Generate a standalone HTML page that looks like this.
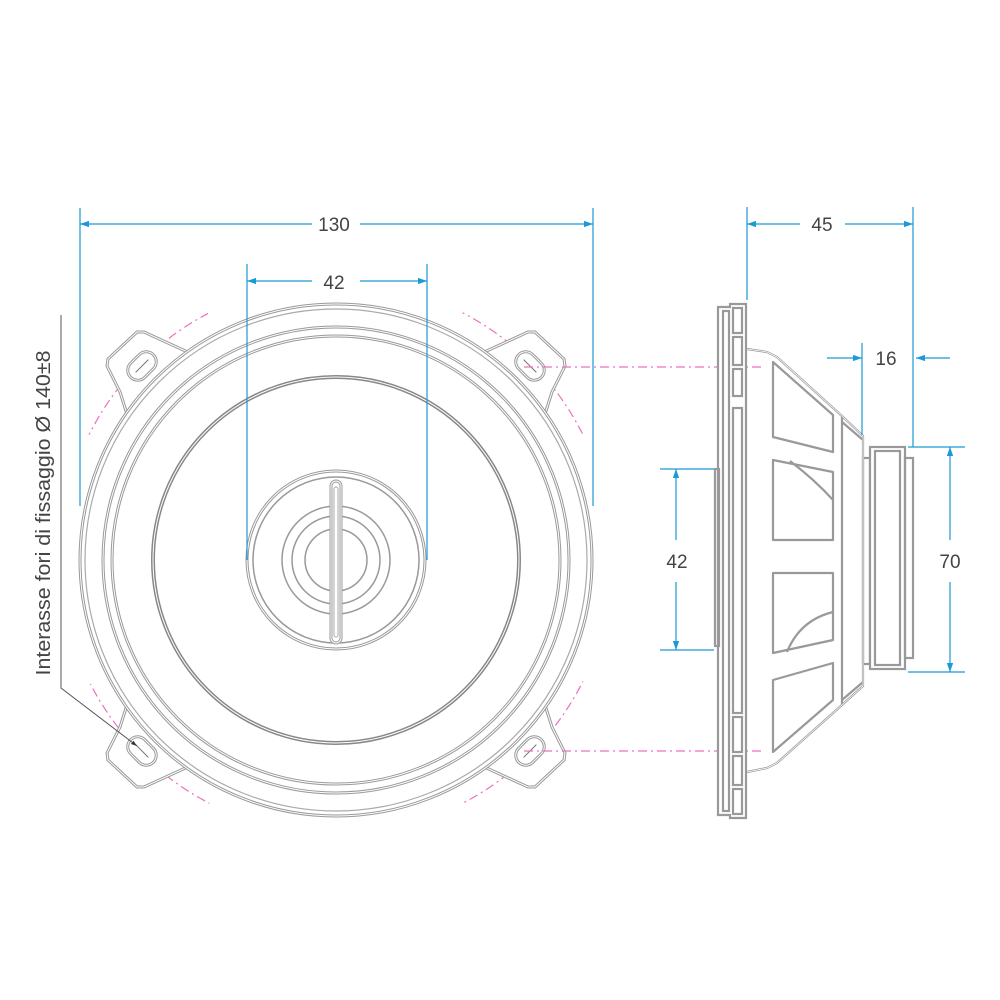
<!DOCTYPE html>
<html><head><meta charset="utf-8"><style>
html,body{margin:0;padding:0;background:#fff;}
svg{display:block;}
text{font-family:"Liberation Sans",sans-serif;fill:#444;}
</style></head><body>
<svg width="1000" height="1000" viewBox="0 0 1000 1000" xmlns="http://www.w3.org/2000/svg">
<defs>
<marker id="ar" viewBox="0 0 10 10" refX="10" refY="5" markerWidth="9" markerHeight="9" orient="auto-start-reverse" markerUnits="userSpaceOnUse"><path d="M0,1.5 L10,5 L0,8.5 z" fill="#1a9ad6"/></marker>
<marker id="ak" viewBox="0 0 10 10" refX="10" refY="5" markerWidth="6" markerHeight="6" orient="auto" markerUnits="userSpaceOnUse"><path d="M0,1.5 L10,5 L0,8.5 z" fill="#333"/></marker>
<g id="tab">
<path d="M127,414 L120,392 L107,366 L108,359 L137,332 L144,332 L192,354" fill="#fff" stroke="#999" stroke-width="3"/>
<path d="M127,414 L120,392 L107,366 L108,359 L137,332 L144,332 L192,354" fill="none" stroke="#fff" stroke-width="1"/>
</g>
<g id="slot">
<rect x="-16" y="-10" width="32" height="20" rx="10" fill="none" stroke="#999" stroke-width="3"/>
<rect x="-16" y="-10" width="32" height="20" rx="10" fill="none" stroke="#fff" stroke-width="1"/>
<line x1="-9" y1="0" x2="9" y2="0" stroke="#777" stroke-width="1"/>
</g>
</defs>

<circle cx="336" cy="558" r="276" fill="none" stroke="#ef6fbd" stroke-width="1.2" stroke-dasharray="9,4,2,4"/>
<g fill="#fff">
<path d="M336,558 L180,260 L490,260 Z"/>
<path d="M336,558 L180,860 L490,860 Z"/>
<path d="M336,558 L40,410 L40,710 Z"/>
<path d="M336,558 L640,410 L640,710 Z"/>
</g>

<use href="#tab"/>
<use href="#tab" transform="translate(672,0) scale(-1,1)"/>
<use href="#tab" transform="translate(0,1119) scale(1,-1)"/>
<use href="#tab" transform="translate(672,1119) scale(-1,-1)"/>

<g fill="none">
<circle cx="336" cy="560" r="256" fill="#fff" stroke="#999" stroke-width="3"/>
<circle cx="336" cy="560" r="256" stroke="#fff" stroke-width="1"/>
<circle cx="336" cy="560" r="251" stroke="#aaa" stroke-width="1.2"/>
<circle cx="336" cy="560" r="233" stroke="#999" stroke-width="3"/>
<circle cx="336" cy="560" r="233" stroke="#fff" stroke-width="1"/>
<circle cx="336" cy="560" r="224" stroke="#999" stroke-width="3"/>
<circle cx="336" cy="560" r="224" stroke="#fff" stroke-width="1"/>
<circle cx="336" cy="560" r="183" stroke="#888" stroke-width="4"/>
<circle cx="336" cy="560" r="183" stroke="#fff" stroke-width="1"/>
<circle cx="336" cy="560" r="89" stroke="#999" stroke-width="3"/>
<circle cx="336" cy="560" r="89" stroke="#fff" stroke-width="1"/>
<circle cx="336" cy="560" r="83" stroke="#999" stroke-width="1.5"/>
<circle cx="336" cy="560" r="54" stroke="#999" stroke-width="1.5"/>
<circle cx="336" cy="560" r="44" stroke="#999" stroke-width="1.5"/>
<circle cx="336" cy="560" r="31" stroke="#999" stroke-width="1.5"/>
</g>
<rect x="331" y="481" width="10" height="162" rx="5" fill="#fff" stroke="#999" stroke-width="3"/>
<rect x="331" y="481" width="10" height="162" rx="5" fill="none" stroke="#fff" stroke-width="1"/>
<rect x="334" y="487" width="4" height="150" rx="2" fill="none" stroke="#aaa" stroke-width="1"/>

<use href="#slot" transform="translate(142,366) rotate(-45)"/>
<use href="#slot" transform="translate(530,366) rotate(45)"/>
<use href="#slot" transform="translate(142,751) rotate(45)"/>
<use href="#slot" transform="translate(530,751) rotate(-45)"/>
<g stroke="#ef6fbd" stroke-width="1.2" stroke-dasharray="9,4,2,4">
<line x1="524" y1="367" x2="762" y2="367"/>
<line x1="524" y1="751" x2="762" y2="751"/>
</g>

<polyline points="61,315 61,688 137,746" fill="none" stroke="#555" stroke-width="1" marker-end="url(#ak)"/>
<text transform="translate(50,513) rotate(-90)" font-size="20" text-anchor="middle" textLength="325" lengthAdjust="spacingAndGlyphs">Interasse fori di fissaggio Ø 140±8</text>

<g stroke="#1a9ad6" stroke-width="1.2" fill="none">
<line x1="80" y1="208" x2="80" y2="506"/>
<line x1="593" y1="208" x2="593" y2="506"/>
<line x1="80" y1="224" x2="312" y2="224" marker-start="url(#ar)"/>
<line x1="360" y1="224" x2="593" y2="224" marker-end="url(#ar)"/>
<line x1="247" y1="264" x2="247" y2="560"/>
<line x1="427" y1="264" x2="427" y2="560"/>
<line x1="247" y1="281" x2="312" y2="281" marker-start="url(#ar)"/>
<line x1="360" y1="281" x2="427" y2="281" marker-end="url(#ar)"/>
</g>
<text x="334" y="231" font-size="19" text-anchor="middle">130</text>
<text x="334" y="289" font-size="19" text-anchor="middle">42</text>

<g fill="none" stroke="#999" stroke-width="2.2">
<path d="M718,307 L730,307 L730,304 L746,304 L746,818 L730,818 L730,815 L718,815 Z" fill="#fff"/>
<rect x="723" y="311" width="6" height="500"/>
<rect x="733" y="308" width="9" height="25"/>
<rect x="733" y="337" width="9" height="28"/>
<rect x="733" y="369" width="9" height="27"/>
<rect x="733" y="408" width="9" height="305"/>
<rect x="733" y="717" width="9" height="35"/>
<rect x="733" y="756" width="9" height="29"/>
<rect x="733" y="789" width="9" height="25"/>
<rect x="715" y="469" width="4" height="177"/>
<path d="M747,349 L767,352 L777,357 L842,416 L863,436 L863,686 L842,705 L777,763 L767,768 L747,772"/>
<line x1="842" y1="416" x2="842" y2="705"/>
<line x1="842" y1="422" x2="863" y2="440"/>
<line x1="842" y1="700" x2="863" y2="682"/>
<path d="M773,362 L833,415 L833,452 L773,437 Z" stroke-linejoin="round"/>
<path d="M773,460 L833,472 L833,540 L773,540 Z" stroke-linejoin="round"/>
<path d="M773,573 L833,573 L833,640 L773,653 Z" stroke-linejoin="round"/>
<path d="M773,680 L833,663 L833,700 L773,752 Z" stroke-linejoin="round"/>
<path d="M790,461 Q815,480 833,500"/>
<path d="M787,652 Q800,620 833,612"/>
<rect x="863" y="458" width="7" height="206"/>
<rect x="870" y="447" width="35" height="222" fill="#fff"/>
<rect x="875" y="451" width="25" height="214"/>
<rect x="905" y="458" width="8" height="200"/>
</g>
<g stroke="#fff" stroke-width="0.8" fill="none">
<path d="M747,349 L767,352 L777,357 L842,416 L863,436 L863,686 L842,705 L777,763 L767,768 L747,772"/>
</g>

<g stroke="#1a9ad6" stroke-width="1.2" fill="none">
<line x1="747" y1="207" x2="747" y2="300"/>
<line x1="913" y1="207" x2="913" y2="447"/>
<line x1="747" y1="224" x2="800" y2="224" marker-start="url(#ar)"/>
<line x1="845" y1="224" x2="913" y2="224" marker-end="url(#ar)"/>
<line x1="862" y1="343" x2="862" y2="435"/>
<line x1="827" y1="358" x2="862" y2="358" marker-end="url(#ar)"/>
<line x1="950" y1="358" x2="916" y2="358" marker-end="url(#ar)"/>
<line x1="660" y1="469" x2="714" y2="469"/>
<line x1="660" y1="650" x2="714" y2="650"/>
<line x1="676" y1="469" x2="676" y2="540" marker-start="url(#ar)"/>
<line x1="676" y1="582" x2="676" y2="650" marker-end="url(#ar)"/>
<line x1="908" y1="447" x2="965" y2="447"/>
<line x1="908" y1="672" x2="965" y2="672"/>
<line x1="950" y1="447" x2="950" y2="540" marker-start="url(#ar)"/>
<line x1="950" y1="582" x2="950" y2="672" marker-end="url(#ar)"/>
</g>
<text x="822" y="231" font-size="19" text-anchor="middle">45</text>
<text x="886" y="365" font-size="19" text-anchor="middle">16</text>
<text x="677" y="568" font-size="19" text-anchor="middle">42</text>
<text x="950" y="568" font-size="19" text-anchor="middle">70</text>
</svg>
</body></html>
